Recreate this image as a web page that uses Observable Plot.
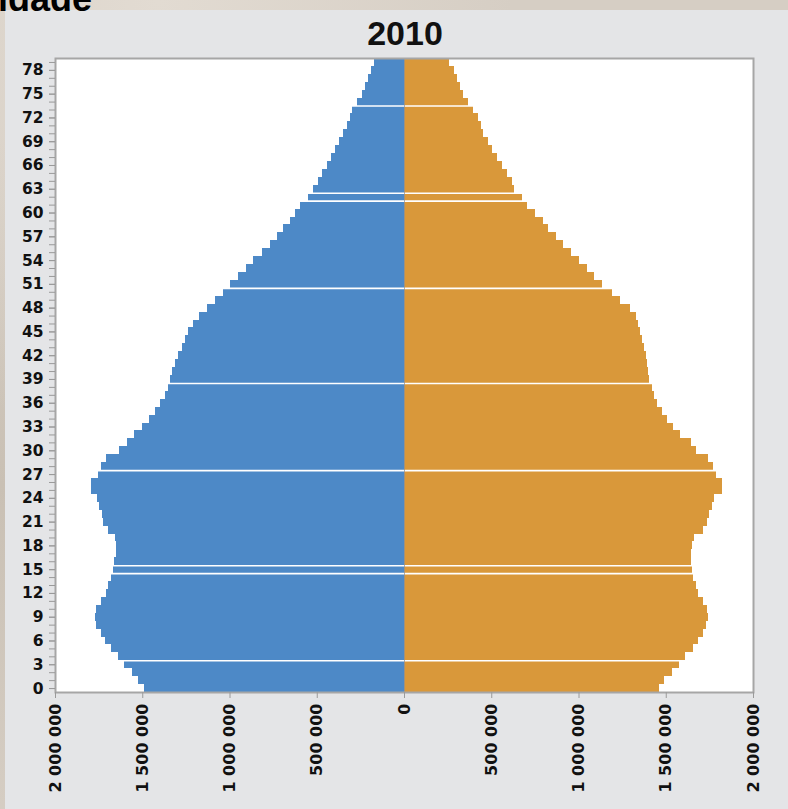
<!DOCTYPE html>
<html><head><meta charset="utf-8">
<script src="https://cdn.jsdelivr.net/npm/d3@7"></script>
<script src="https://cdn.jsdelivr.net/npm/@observablehq/plot@0.6"></script>
<style>
html,body{margin:0;padding:0;}
body{width:788px;height:809px;overflow:hidden;position:relative;
  background:
    radial-gradient(ellipse at 20% 0%, #e2dbd2 0%, rgba(226,219,210,0) 40%),
    radial-gradient(ellipse at 0% 60%, #c9c0b4 0%, rgba(201,192,180,0) 50%),
    #d6cec4;}
#panel{position:absolute;left:5px;top:10px;right:0;bottom:0;background:#e4e5e7;}
#sup{position:absolute;left:-2px;top:-19.5px;font:bold 36px "Liberation Sans",Arial,sans-serif;line-height:36px;color:#000;z-index:3;white-space:nowrap;}
#title{position:absolute;left:305px;top:16px;width:200px;text-align:center;font:bold 34px "Liberation Sans",Arial,sans-serif;line-height:34px;color:#111;}
#chart{position:absolute;left:0;top:0;}
</style></head><body>
<div id="panel"></div>
<div id="sup">idade</div>
<div id="title">2010</div>
<div id="chart"></div>
<script>
// ages 0..79 (single years)
const ages = [0,1,2,3,4,5,6,7,8,9,10,11,12,13,14,15,16,17,18,19,20,21,22,23,24,25,26,27,28,29,
  30,31,32,33,34,35,36,37,38,39,40,41,42,43,44,45,46,47,48,49,50,51,52,53,54,55,56,57,58,59,
  60,61,62,63,64,65,66,67,68,69,70,71,72,73,74,75,76,77,78,79];
// population, men (left), by age 0..79
const male = [1490000,1523000,1560000,1605000,1637000,1681000,1713000,1738000,1765000,1771000,
  1765000,1738000,1708000,1694000,1681000,1666000,1662000,1650000,1650000,1656000,
  1694000,1723000,1733000,1746000,1757000,1796000,1796000,1752000,1738000,1709000,
  1632000,1589000,1547000,1503000,1459000,1427000,1398000,1370000,1351000,1341000,
  1331000,1312000,1293000,1274000,1255000,1236000,1207000,1173000,1131000,1083000,
  1039000,997000,953000,905000,864000,816000,768000,730000,692000,653000,
  625000,596000,552000,523000,495000,468000,443000,420000,395000,372000,
  351000,328000,309000,296000,271000,242000,223000,206000,191000,172000];
// population, women (right), by age 0..79
const female = [1463000,1490000,1534000,1578000,1610000,1658000,1687000,1715000,1731000,1744000,
  1735000,1715000,1687000,1673000,1658000,1652000,1643000,1643000,1649000,1662000,
  1715000,1735000,1750000,1763000,1777000,1821000,1821000,1788000,1773000,1744000,
  1673000,1643000,1582000,1540000,1509000,1477000,1452000,1433000,1419000,1406000,
  1400000,1391000,1385000,1375000,1366000,1352000,1343000,1330000,1295000,1238000,
  1194000,1137000,1091000,1047000,1005000,957000,913000,871000,827000,795000,
  751000,703000,678000,632000,617000,588000,560000,531000,502000,483000,
  455000,439000,422000,394000,365000,340000,321000,302000,288000,260000];
// labelled ages on the vertical axis
const labelAges = [0,3,6,9,12,15,18,21,24,27,30,33,36,39,42,45,48,51,54,57,60,63,66,69,72,75,78];
// horizontal axis ticks
const xTicks = [-2000000,-1500000,-1000000,-500000,0,500000,1000000,1500000,2000000];
// thin white seams visible across the bars (between these ages)
const gapLines = [73.5,62.5,61.5,50.5,38.5,27.5,15.5,14.5,3.5];

const data = ages.map((a, i) => ({age: a, male: male[i], female: female[i]}));
const fmt = v => d3.format(",")(Math.abs(v)).replace(/,/g, " ");

const chart = Plot.plot({
  width: 788, height: 809,
  marginLeft: 55, marginRight: 35, marginTop: 58, marginBottom: 117,
  x: {domain: [-2000000, 2000000]},
  y: {domain: [-0.5, 79.5]},
  style: {background: "transparent", fontFamily: "DejaVu Sans", fontSize: "14px", fontWeight: "bold", color: "#111", overflow: "visible"},
  marks: [
    Plot.frame({fill: "white", stroke: "white"}),
    Plot.rectX(data, {x1: d => 0, x2: d => -d.male, y1: d => d.age - 0.5, y2: d => d.age + 0.5, fill: "#4d89c7", shapeRendering: "crispEdges"}),
    Plot.rectX(data, {x1: d => 0, x2: d => d.female, y1: d => d.age - 0.5, y2: d => d.age + 0.5, fill: "#d9983a", shapeRendering: "crispEdges"}),
    Plot.ruleY(gapLines, {stroke: "white", strokeWidth: 1.6}),
    Plot.ruleX([0], {stroke: "#8b8f94", strokeWidth: 1, strokeOpacity: 0.7}),
    Plot.frame({stroke: "#a6a6a6", strokeWidth: 2}),
    Plot.axisY(ages, {tickSize: 6, tickFormat: () => "", stroke: "#9a9a9a", label: null}),
    Plot.axisY(labelAges, {tickSize: 6, tickPadding: 6, stroke: "#9a9a9a", fill: "#111", fontSize: 15.5, label: null}),
    Plot.axisX(xTicks, {tickSize: 6, tickPadding: 5, tickRotate: -90, tickFormat: fmt, stroke: "#9a9a9a", fill: "#111", fontSize: 16, label: null})
  ]
});
document.getElementById("chart").appendChild(chart);
</script>
</body></html>
